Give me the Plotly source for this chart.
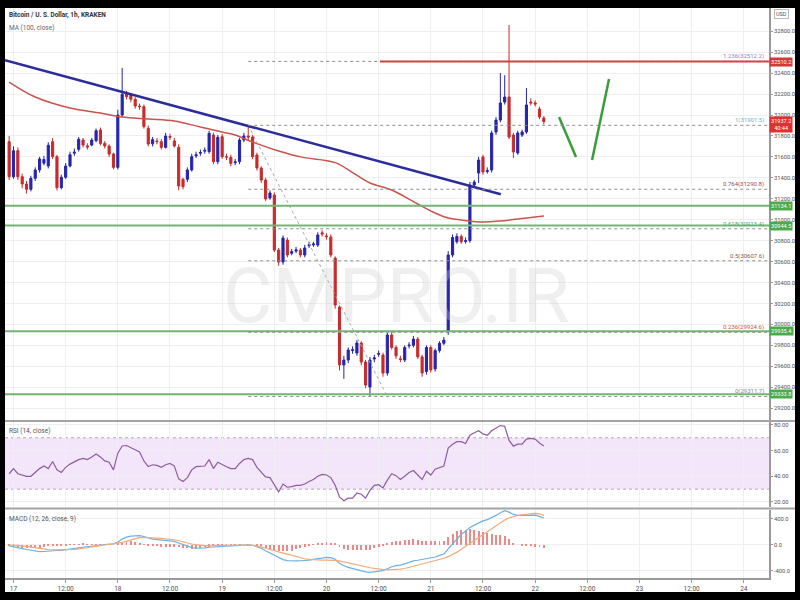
import plotly.graph_objects as go
import pandas as pd

# ---------------- data (hourly candles, first candle 2021-07-16 23:00) ----------------
first_candle = "2021-07-16 23:00"
opens = [31745, 31411, 31659, 31411, 31341, 31290, 31395, 31475, 31540, 31513, 31745,
         31602, 31306, 31405, 31513, 31635, 31672, 31761, 31705, 31713, 31755,
         31857, 31729, 31704, 31627, 31500, 32000, 32198, 32191, 32150, 32086,
         32080, 31873, 31725, 31752, 31745, 31691, 31795, 31752, 31691, 31386,
         31386, 31475, 31610, 31635, 31655, 31650, 31809, 31554, 31793, 31602,
         31596, 31545, 31554, 31761, 31800, 31790, 31618, 31494, 31379, 31207,
         31236, 30711, 30596, 30806, 30680, 30700, 30710, 30663, 30752, 30760,
         30758, 30875, 30845, 30835, 30634, 30166, 29612, 29660, 29750, 29727,
         29822, 29641, 29402, 29670, 29715, 29708, 29536, 29899, 29780, 29672,
         29660, 29795, 29800, 29860, 29690, 29550, 29780, 29575, 29750, 29820,
         29927, 30663, 30790, 30840, 30792, 30800, 31331, 31446, 31599, 31460,
         31475, 31838, 31952, 32124, 32172, 31809, 31637, 31809, 31838, 32124,
         32115, 32057, 31971]
highs = [31800, 31700, 31690, 31440, 31370, 31420, 31500, 31600, 31610, 31740, 31780,
         31620, 31430, 31540, 31650, 31680, 31790, 31780, 31730, 31780, 31870,
         31880, 31750, 31720, 31640, 32050, 32450, 32230, 32210, 32170, 32110,
         32100, 31900, 31790, 31780, 31770, 31830, 31820, 31780, 31720, 31400,
         31500, 31630, 31650, 31670, 31690, 31850, 31830, 31810, 31820, 31630,
         31620, 31580, 31780, 31830, 31901.5, 31810, 31640, 31510, 31400, 31280,
         31260, 30730, 30850, 30830, 30720, 30740, 30730, 30760, 30790, 30790,
         30880, 30900, 30870, 30860, 30650, 30180, 29700, 29780, 29790, 29850,
         29840, 29660, 29690, 29710, 29750, 29730, 29920, 29930, 29800, 29700,
         29800, 29830, 29890, 29880, 29710, 29800, 29800, 29770, 29840, 29880,
         30700, 30860, 30870, 30860, 30830, 31360, 31380, 31600, 31620, 31500,
         31850, 31980, 32401, 32380, 32860, 31830, 31850, 31860, 32258, 32160,
         32140, 32080, 31990]
lows = [31380, 31390, 31380, 31300, 31250, 31270, 31370, 31450, 31520, 31490, 31580,
        31280, 31290, 31390, 31500, 31610, 31650, 31690, 31670, 31700, 31740,
        31710, 31680, 31600, 31480, 31480, 31980, 32150, 32120, 32060, 32050,
        31870, 31700, 31700, 31720, 31670, 31680, 31760, 31690, 31280, 31290,
        31360, 31460, 31590, 31610, 31630, 31630, 31530, 31530, 31580, 31570,
        31510, 31520, 31530, 31740, 31760, 31580, 31470, 31350, 31180, 31190,
        30690, 30560, 30570, 30640, 30660, 30680, 30640, 30640, 30730, 30740,
        30740, 30840, 30810, 30640, 30150, 29560, 29480, 29630, 29720, 29700,
        29610, 29390, 29311.7, 29640, 29690, 29500, 29510, 29760, 29670, 29640,
        29640, 29770, 29780, 29670, 29500, 29520, 29540, 29550, 29730, 29800,
        29900, 30640, 30770, 30770, 30770, 30780, 31310, 31350, 31430, 31440,
        31450, 31810, 31930, 32100, 31770, 31590, 31620, 31790, 31820, 32090,
        32080, 31960, 31910]
closes = [31411, 31659, 31411, 31341, 31290, 31395, 31475, 31580, 31575, 31711, 31602,
          31306, 31405, 31513, 31621, 31645, 31768, 31713, 31695, 31761, 31850,
          31729, 31704, 31627, 31500, 32000, 32198, 32175, 32150, 32086, 32080,
          31889, 31723, 31765, 31746, 31691, 31799, 31788, 31704, 31322, 31315,
          31475, 31602, 31620, 31642, 31662, 31825, 31554, 31787, 31602, 31598,
          31538, 31552, 31761, 31800, 31790, 31602, 31494, 31379, 31198, 31255,
          30711, 30596, 30825, 30663, 30695, 30712, 30663, 30730, 30762, 30768,
          30854, 30862, 30838, 30663, 30185, 29612, 29660, 29755, 29758, 29822,
          29641, 29421, 29660, 29680, 29722, 29536, 29899, 29780, 29700, 29665,
          29780, 29802, 29860, 29690, 29536, 29780, 29565, 29750, 29820, 29850,
          30663, 30830, 30840, 30790, 30800, 31331, 31360, 31570, 31456, 31468,
          31828, 31952, 32115, 32172, 31790, 31647, 31828, 31838, 32096, 32115,
          32105, 31981, 31937.2]

# MA(100) (hours from 17 Jul 00:00, price)
ma_hours = [-1, 5, 13, 20, 25, 31, 37, 43, 48, 51, 55, 61, 66, 74, 78, 82, 87, 93, 97,
            100, 103, 107, 112, 116, 122]
ma_values = [32315, 32172, 32067, 32019, 31981, 31962, 31943, 31885, 31838, 31809,
             31742, 31656, 31600, 31545, 31450, 31351, 31284, 31150, 31064, 31016,
             30997, 30978, 30988, 31007, 31035]

rsi = [42, 46, 42, 41, 40, 40, 43, 46, 48, 46, 51.5,
       45, 43, 47, 49.5, 51.5, 53, 54, 53, 55, 57.4,
       55, 52, 51, 45, 58, 63.6, 64, 62.5, 61, 59,
       52, 47.6, 49, 48.5, 47, 49, 50, 48, 38, 36,
       39, 45, 47.5, 48, 48, 53, 46, 51, 49, 47.5,
       46, 46, 50, 53, 54, 53, 47, 43, 39.5, 39,
       33, 28, 34, 31.5, 32, 33, 33, 34, 36, 37.5,
       40, 41.5, 41, 39, 33, 24, 21, 23, 23, 27,
       26, 23, 29, 33, 33.5, 31, 37, 42, 40.5, 37.5,
       40, 43, 44.5, 41, 37.5, 44, 41, 45.5, 47, 48,
       62, 65, 67, 67, 65.5, 72, 74, 75.5, 73, 72,
       75.5, 77.5, 79.5, 79, 68, 63.5, 65, 65, 69, 69.5,
       69, 66, 63.6]

macd = [-15, -25, -40, -55, -70, -85, -95, -103, -100, -92, -85,
        -85, -82, -75, -70, -60, -45, -35, -25, -15, -5,
        5, 10, 15, 18, 45, 90, 120, 135, 142, 143,
        130, 105, 90, 82, 75, 70, 65, 55, 30, 5,
        -20, -40, -50, -50, -45, -35, -30, -25, -20, -15,
        -12, -8, -5, 0, 2, -5, -25, -50, -90, -125,
        -165, -200, -225, -240, -245, -245, -243, -240, -233, -222,
        -210, -200, -192, -195, -220, -280, -320, -345, -365, -385,
        -400, -415, -420, -412, -400, -395, -365, -335, -318, -310,
        -290, -262, -245, -235, -225, -210, -195, -185, -160, -138,
        -60, 20, 100, 165, 210, 270, 305, 340, 370, 390,
        420, 455, 495, 528, 505, 470, 455, 455, 461, 462,
        460, 440, 410]
signal = [0, 0, -5, -15, -25, -35, -45, -60, -70, -72, -74,
          -74, -74, -73, -72, -68, -60, -52, -40, -30, -20,
          -10, 0, 10, 18, 22, 40, 60, 80, 100, 112,
          118, 116, 112, 105, 100, 95, 90, 80, 65, 45,
          30, 15, 5, -5, -10, -10, -8, -6, -5, -5,
          -3, -2, 0, 0, 0, -5, -15, -30, -50, -70,
          -95, -110, -125, -140, -160, -180, -198, -212, -222, -228,
          -232, -233, -232, -232, -236, -245, -258, -275, -290, -305,
          -320, -335, -350, -362, -372, -380, -382, -380, -375, -370,
          -362, -345, -330, -312, -293, -277, -258, -241, -222, -205,
          -180, -150, -110, -65, -20, 30, 80, 125, 170, 210,
          250, 300, 345, 385, 415, 440, 455, 465, 475, 482,
          487, 478, 455]
histogram = [-15, -25, -35, -40, -45, -50, -50, -43, -30, -20, -11,
             -11, -8, -2, 2, 8, 15, 17, 15, 15, 15,
             15, 10, 5, 0, 23, 50, 60, 55, 42, 31,
             12, -11, -22, -23, -25, -25, -25, -25, -35, -40,
             -50, -55, -55, -45, -35, -25, -22, -19, -15, -10,
             -9, -6, -5, 0, 2, 0, -10, -20, -40, -55,
             -70, -90, -100, -100, -85, -65, -45, -28, -11, 6,
             22, 33, 40, 37, 16, -35, -62, -70, -75, -80,
             -80, -80, -70, -50, -28, -15, 17, 45, 57, 60,
             72, 83, 85, 77, 68, 67, 63, 56, 62, 67,
             120, 170, 210, 230, 230, 240, 225, 215, 200, 180,
             170, 155, 150, 143, 90, 30, 0, -10, -14, -20,
             -27, -38, -45]

# drawings (hours from 17 Jul 00:00, price)
trend_hours = [-1.96, 112.1]
trend_prices = [32523, 31243]
resist_price = 32510.2
resist_start_hour = 84.3
support_prices = [31134.1, 30944.5, 29935.4, 29333.8]
fib_ratios = ["1.236", "1", "0.764", "0.618", "0.5", "0.236", "0"]
fib_prices = [32512.2, 31901.5, 31290.8, 30913.4, 30607.6, 29924.6, 29311.7]
fib_start_hour = 54
fib_diag_hours = [54, 86]
fib_diag_prices = [31901.5, 29311.7]
path1_hours = [125.5, 129.4]
path1_prices = [31981, 31599]
path2_hours = [133.1, 137.0]
path2_prices = [31570, 32344]
last_price = 31937.2

x_tick_hours = [0, 12, 24, 36, 48, 60, 72, 84, 96, 108, 120, 132, 144, 156, 168]
x_tick_labels = ["17", "12:00", "18", "12:00", "19", "12:00", "20", "12:00", "21",
                 "12:00", "22", "12:00", "23", "12:00", "24"]
price_ticks = [29200, 29400, 29600, 29800, 30000, 30200, 30400, 30600, 30800, 31000,
               31200, 31400, 31600, 31800, 32000, 32200, 32400, 32600, 32800]
rsi_ticks = [20, 40, 60, 80]
macd_ticks = [-400, 0, 400]

# ---------------- helpers ----------------
base = pd.Timestamp("2021-07-17 00:00")
def at(h):
    return base + pd.Timedelta(hours=h)

times = pd.date_range(first_candle, periods=len(closes), freq="h")
X_LEFT, X_RIGHT = -1.955, 173.8

# pixel -> paper helpers (plot area: x 5..769, y 8..578)
def px(x):
    return (x - 5) / 764.0
def py(y):
    return (578 - y) / 570.0

BLUE = "#2424ac"
RED = "#c62b2b"
GREEN = "#74b474"
FONT = "Roboto, Liberation Sans, sans-serif"

fig = go.Figure()

fig.add_trace(go.Candlestick(
    x=times, open=opens, high=highs, low=lows, close=closes,
    increasing=dict(line=dict(color=BLUE, width=1), fillcolor=BLUE),
    decreasing=dict(line=dict(color=RED, width=1), fillcolor=RED),
    whiskerwidth=0, xaxis="x", yaxis="y", showlegend=False, hoverinfo="skip"))

fig.add_trace(go.Scatter(x=[at(h) for h in ma_hours], y=ma_values, mode="lines",
                         line=dict(color="#c9544e", width=1.5, shape="spline"),
                         yaxis="y", showlegend=False, hoverinfo="skip"))

# fib diagonal
fig.add_trace(go.Scatter(x=[at(h) for h in fib_diag_hours], y=fib_diag_prices, mode="lines",
                         line=dict(color="#a8a8a8", width=1, dash="dot"),
                         yaxis="y", showlegend=False, hoverinfo="skip"))
# trend line
fig.add_trace(go.Scatter(x=[at(h) for h in trend_hours], y=trend_prices, mode="lines",
                         line=dict(color="#2c2c9c", width=2.5),
                         yaxis="y", showlegend=False, hoverinfo="skip"))
# projected path
for hs, ps in [(path1_hours, path1_prices), (path2_hours, path2_prices)]:
    fig.add_trace(go.Scatter(x=[at(h) for h in hs], y=ps, mode="lines",
                             line=dict(color="#3a9c3a", width=2.5),
                             yaxis="y", showlegend=False, hoverinfo="skip"))

# RSI
fig.add_trace(go.Scatter(x=times, y=rsi, mode="lines", line=dict(color="#8e5d9f", width=1.2),
                         yaxis="y2", showlegend=False, hoverinfo="skip"))
# MACD
fig.add_trace(go.Bar(x=times, y=histogram, marker=dict(color="#ec8a8a", line=dict(width=0)),
                     width=0.22 * 3600 * 1000, yaxis="y3", showlegend=False, hoverinfo="skip"))
fig.add_trace(go.Scatter(x=times, y=macd, mode="lines", line=dict(color="#6cb2e4", width=1.2),
                         yaxis="y3", showlegend=False, hoverinfo="skip"))
fig.add_trace(go.Scatter(x=times, y=signal, mode="lines", line=dict(color="#f2aa78", width=1.2),
                         yaxis="y3", showlegend=False, hoverinfo="skip"))

shapes = []
# RSI band
shapes.append(dict(type="rect", xref="paper", x0=0, x1=1, yref="y2", y0=30, y1=70,
                   fillcolor="#f3e6fb", line=dict(width=0), layer="below"))
for lvl in [30, 70]:
    shapes.append(dict(type="line", xref="paper", x0=0, x1=1, yref="y2", y0=lvl, y1=lvl,
                       line=dict(color="#b0a8b8", width=1, dash="dot"), layer="below"))
# support lines
for p in support_prices:
    shapes.append(dict(type="line", xref="paper", x0=0, x1=1, yref="y", y0=p, y1=p,
                       line=dict(color=GREEN, width=2)))
# fib levels
for p in fib_prices:
    shapes.append(dict(type="line", xref="x", x0=at(fib_start_hour), x1=at(X_RIGHT), yref="y",
                       y0=p, y1=p, line=dict(color="#8f8f8f", width=1, dash="dot")))
# resistance
shapes.append(dict(type="line", xref="x", x0=at(resist_start_hour), x1=at(X_RIGHT), yref="y",
                   y0=resist_price, y1=resist_price, line=dict(color="#d04444", width=2)))
# panel separators
for yy in [421, 508.5]:
    shapes.append(dict(type="line", xref="paper", x0=px(5), x1=px(795), yref="paper",
                       y0=py(yy), y1=py(yy), line=dict(color="#a4a4a4", width=2)))
# black frame
for (x0, x1, y0, y1) in [(-20, 820, -20, 8), (-20, 820, 592, 620), (-20, 5, -20, 620), (795, 820, -20, 620)]:
    shapes.append(dict(type="rect", xref="paper", yref="paper", x0=px(x0), x1=px(x1),
                       y0=py(y1), y1=py(y0), fillcolor="black", line=dict(width=0), layer="above"))

annotations = []
annotations.append(dict(text="CMPRO.IR", xref="paper", yref="paper", x=px(396), y=py(296),
                        showarrow=False, font=dict(family=FONT, size=76, color="rgba(205,205,205,0.32)")))
annotations.append(dict(text="<b>Bitcoin / U. S. Dollar, 1h, KRAKEN</b>", xref="paper", yref="paper",
                        x=px(7), y=py(15), xanchor="left", yanchor="middle", showarrow=False,
                        font=dict(family=FONT, size=6.5, color="#333")))
annotations.append(dict(text="MA (100, close)", xref="paper", yref="paper",
                        x=px(7), y=py(28), xanchor="left", yanchor="middle", showarrow=False,
                        font=dict(family=FONT, size=6.5, color="#666")))
annotations.append(dict(text="RSI (14, close)", xref="paper", yref="paper",
                        x=px(7), y=py(431), xanchor="left", yanchor="middle", showarrow=False,
                        font=dict(family=FONT, size=6.5, color="#555")))
annotations.append(dict(text="MACD (12, 26, close, 9)", xref="paper", yref="paper",
                        x=px(7), y=py(518.5), xanchor="left", yanchor="middle", showarrow=False,
                        font=dict(family=FONT, size=6.5, color="#555")))
fib_colors = ["#9a7cc8", "#6ab4d8", "#a4445a", "#4cae84", "#8a5a48", "#c4544a", "#8a8a8a"]
for r, p, c in zip(fib_ratios, fib_prices, fib_colors):
    annotations.append(dict(text=f"{r}({p:.1f})", xref="paper", yref="y", x=px(766), y=p,
                            xanchor="right", yanchor="bottom", yshift=-1, showarrow=False,
                            font=dict(family=FONT, size=6, color=c)))
# right-axis price tags
tags = [(resist_price, f"{resist_price:.1f}", "#d03a3a")] + \
       [(p, f"{p:.1f}", "#4caa4c") for p in support_prices]
for p, t, c in tags:
    annotations.append(dict(text=t, xref="paper", yref="y", x=px(769.5), y=p, xanchor="left",
                            yanchor="middle", showarrow=False, bgcolor=c, borderpad=1,
                            font=dict(family=FONT, size=5.6, color="white")))
annotations.append(dict(text=f"{last_price:.1f}<br>40:44", xref="paper", yref="y", x=px(769.5),
                        y=31909, xanchor="left", yanchor="middle", showarrow=False, bgcolor="#e03030",
                        borderpad=1, font=dict(family=FONT, size=5.6, color="white")))
annotations.append(dict(text="USD", xref="paper", yref="paper", x=px(781), y=py(14), xanchor="center",
                        yanchor="middle", showarrow=False, bgcolor="white", bordercolor="#bbb",
                        borderwidth=1, borderpad=1, font=dict(family=FONT, size=5.5, color="#555")))

axis_font = dict(family=FONT, size=5.8, color="#505050")
common_y = dict(side="right", showgrid=True, gridcolor="#efefef", zeroline=False, ticks="outside",
                ticklen=2, tickcolor="#999", showline=True, linecolor="#9a9a9a", linewidth=1.5,
                tickfont=axis_font, anchor="x", fixedrange=True)

fig.update_layout(
    width=800, height=600,
    margin=dict(l=5, r=31, t=8, b=22),
    paper_bgcolor="white", plot_bgcolor="white",
    showlegend=False, bargap=0,
    xaxis=dict(type="date", range=[at(X_LEFT), at(X_RIGHT)], anchor="y3",
               tickvals=[at(h) for h in x_tick_hours], ticktext=x_tick_labels,
               tickfont=dict(family=FONT, size=6.5, color="#505050"), showgrid=True,
               gridcolor="#efefef", zeroline=False,
               ticks="outside", ticklen=3, tickcolor="#999", showline=True, linecolor="#9a9a9a",
               linewidth=1.5, rangeslider=dict(visible=False)),
    yaxis=dict(domain=[py(420), 1], range=[29087, 33022], tickvals=price_ticks,
               ticktext=[f"{v:.1f}" for v in price_ticks], **common_y),
    yaxis2=dict(domain=[py(507), py(422)], range=[16.1, 82.3], tickvals=rsi_ticks,
                ticktext=[f"{v:.2f}" for v in rsi_ticks], **common_y),
    yaxis3=dict(domain=[0, py(510)], range=[-508, 538], tickvals=macd_ticks,
                ticktext=[f"{v:.1f}" for v in macd_ticks], **common_y),
    shapes=shapes, annotations=annotations,
)

fig.write_html("out.html", config={"displayModeBar": False},
               post_script="document.body.style.margin='0';document.body.style.overflow='hidden';")
